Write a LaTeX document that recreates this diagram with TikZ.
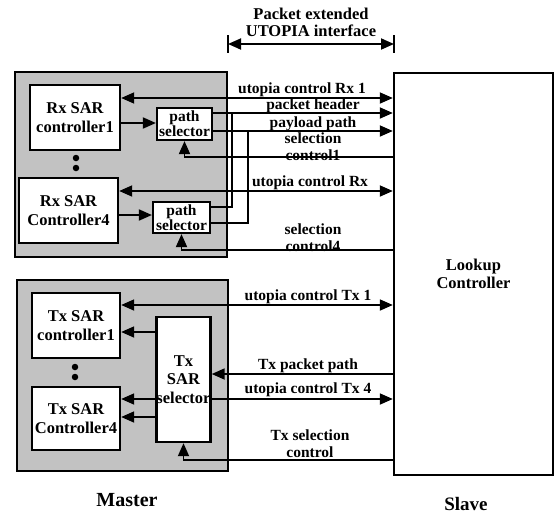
\documentclass[tikz,border=0pt]{standalone}
\usepackage{fontspec}
\setmainfont{Liberation Serif}
\usetikzlibrary{arrows.meta}
\begin{document}
\begin{tikzpicture}[x=1pt,y=-1pt,
  every node/.style={font=\bfseries\fontsize{15.5}{17}\selectfont},
  master/.style={draw, line width=2.6pt, fill=black!24},
  blk/.style={draw, line width=2.4pt, fill=white, align=center, inner sep=0pt,
    font=\bfseries\fontsize{16.5}{18.5}\selectfont},
  selbox/.style={draw, line width=2.2pt, fill=white, align=center, inner sep=0pt,
    font=\bfseries\fontsize{15.5}{13.5}\selectfont},
  lbl/.style={align=center, inner sep=0pt},
  wire/.style={line width=1.8pt},
  arr/.style={wire, -{Triangle[length=13pt,width=11pt]}},
  dbl/.style={wire, {Triangle[length=13pt,width=11pt]}-{Triangle[length=13pt,width=11pt]}},
  dotc/.style={circle, fill=black, inner sep=0pt, minimum size=6.5pt},
]
\useasboundingbox (0,0) rectangle (557,517);

% interface marker
\node[lbl, font=\bfseries\fontsize{16.5}{17}\selectfont] (ift) at (311,22) {Packet extended\\UTOPIA interface};
\coordinate (ifl) at (228,44);
\coordinate (ifr) at (394,44);
\draw[dbl] (ifl) -- (ifr);
\draw[wire] (ifl) ++(0,-9) -- ++(0,18);
\draw[wire] (ifr) ++(0,-9) -- ++(0,18);

% master groups
\node[master, minimum width=212pt, minimum height=185pt] (rxm) at (121,164.5) {};
\node[master, minimum width=211pt, minimum height=191pt] (txm) at (122.5,375.5) {};

% slave
\node[draw, line width=2.4pt, fill=white, minimum width=159pt, minimum height=402pt,
      align=center, font=\bfseries\fontsize{16.5}{18}\selectfont] (slave) at (473.5,274) {Lookup\\Controller};

% Rx blocks
\node[blk, minimum width=90pt, minimum height=65pt] (rc1) at (75,117.5) {Rx SAR\\controller1};
\node[blk, minimum width=99pt, minimum height=65pt] (rc4) at (68.5,210.5) {Rx SAR\\Controller4};
\node[selbox, minimum width=55pt, minimum height=32pt] (ps1) at (184.5,124) {path\\selector};
\node[selbox, minimum width=57pt, minimum height=31pt] (ps2) at (181.5,217.5) {path\\selector};
\node[dotc] (rd1) at (76,158) {};
\node[dotc] (rd2) at (76,168) {};

% Tx blocks
\node[blk, minimum width=88pt, minimum height=65pt] (tc1) at (76,325.5) {Tx SAR\\controller1};
\node[blk, minimum width=88pt, minimum height=63pt] (tc4) at (76,418.5) {Tx SAR\\Controller4};
\node[blk, minimum width=53pt, minimum height=125pt] (tsel) at (183.5,379.5) {Tx\\SAR\\selector};
\node[dotc] (td1) at (75,367) {};
\node[dotc] (td2) at (75,377) {};

% junction coordinates
\coordinate (ja) at (232,113);
\coordinate (jb) at (248,131);

% Rx connectors
\draw[dbl] (rc1.east |- 0,98) -- (slave.west |- 0,98);
\draw[arr] (rc1.east |- 0,123) -- (ps1.west |- 0,123);
\draw[wire] (ps1.east |- 0,113) -- (ja);
\draw[wire] (ps2.east |- 0,207) -| (ja);
\draw[arr] (ja) -- (slave.west |- ja);
\draw[wire] (ps1.east |- 0,131) -- (jb);
\draw[wire] (ps2.east |- 0,223) -| (jb);
\draw[arr] (jb) -- (slave.west |- jb);
\draw[arr] (slave.west |- 0,157) -| (ps1.south);
\draw[dbl] (rc4.east |- 0,191) -- (slave.west |- 0,191);
\draw[arr] (rc4.east |- 0,215) -- (ps2.west |- 0,215);
\draw[arr] (slave.west |- 0,250) -| (ps2.south);

% Tx connectors
\draw[dbl] (tc1.east |- 0,305) -- (slave.west |- 0,305);
\draw[arr] (tsel.west |- 0,332) -- (tc1.east |- 0,332);
\draw[arr] (slave.west |- 0,374) -- (tsel.east |- 0,374);
\draw[arr] (tsel.west |- 0,399) -- (tc4.east |- 0,399);
\draw[arr] (tsel.east |- 0,399) -- (slave.west |- 0,399);
\draw[arr] (tsel.west |- 0,417) -- (tc4.east |- 0,417);
\draw[arr] (slave.west |- 0,460) -| (tsel.south);

% connector labels
\node[lbl] (l1) at (302,90) {utopia control Rx 1};
\node[lbl] (l2) at (313,106) {packet header};
\node[lbl] (l3) at (313,124) {payload path};
\node[lbl] (l4) at (313,147) {selection\\control1};
\node[lbl] (l5) at (310,183) {utopia control Rx};
\node[lbl] (l6) at (313,238) {selection\\control4};
\node[lbl] (l7) at (308,297) {utopia control Tx 1};
\node[lbl] (l8) at (308,366) {Tx packet path};
\node[lbl] (l9) at (308,390) {utopia control Tx 4};
\node[lbl] (l10) at (310,444) {Tx selection\\control};

% captions
\node[lbl, font=\bfseries\fontsize{20}{22}\selectfont] (mcap) at (127,500) {Master};
\node[lbl, font=\bfseries\fontsize{19}{21}\selectfont] (scap) at (466,504) {Slave};
\end{tikzpicture}
\end{document}
